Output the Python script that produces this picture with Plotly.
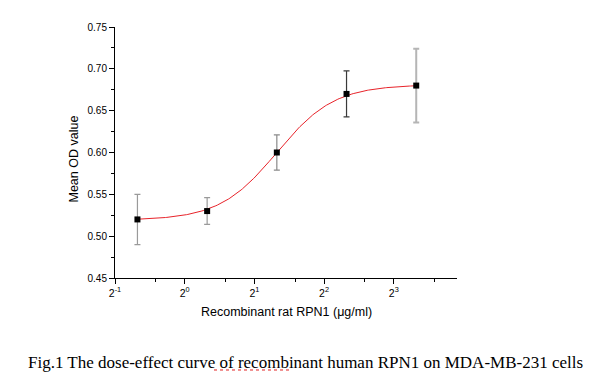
import numpy as np
import plotly.graph_objects as go

# Data
dose = [0.625, 1.25, 2.5, 5, 10]
mean_od = [0.52, 0.53, 0.60, 0.67, 0.68]
err = [0.030, 0.016, 0.021, 0.0275, 0.044]
err_colors = ["#9a9a9a", "#9a9a9a", "#8a8a8a", "#3a3a3a", "#b5b5b5"]
err_widths = [1.2, 1.2, 1.2, 1.2, 2.0]

# Logistic fit parameters (estimated from the drawn curve)
fit_A1 = 0.519
fit_A2 = 0.681
fit_x0 = 2.5
fit_p = 3.5

x_tickvals = [0.5, 1, 2, 4, 8]
x_ticktext = ["2<sup>-1</sup>", "2<sup>0</sup>", "2<sup>1</sup>", "2<sup>2</sup>", "2<sup>3</sup>"]
x_minor = [0.75, 1.5, 3, 6, 12]
y_tickvals = [0.45, 0.50, 0.55, 0.60, 0.65, 0.70, 0.75]
y_ticktext = ["0.45", "0.50", "0.55", "0.60", "0.65", "0.70", "0.75"]
y_minor = [0.475, 0.525, 0.575, 0.625, 0.675, 0.725]

xs = np.logspace(np.log10(dose[0]), np.log10(dose[-1]), 200)
ys = fit_A2 + (fit_A1 - fit_A2) / (1 + (xs / fit_x0) ** fit_p)

fig = go.Figure()
fig.add_trace(go.Scatter(x=xs, y=ys, mode="lines",
                         line=dict(color="#e8232a", width=1), hoverinfo="skip"))
for i in range(len(dose)):
    fig.add_trace(go.Scatter(
        x=[dose[i]], y=[mean_od[i]], mode="markers",
        marker=dict(symbol="square", size=6, color="black"),
        error_y=dict(type="data", array=[err[i]], visible=True,
                     color=err_colors[i], thickness=err_widths[i], width=3)))

font_sans = "Liberation Sans, Arial, sans-serif"
# page body has an 8px margin; margins below compensate for it
fig.update_layout(
    width=612, height=382,
    margin=dict(l=107, r=163, t=19, b=112),
    paper_bgcolor="white", plot_bgcolor="white",
    showlegend=False,
    font=dict(family=font_sans, size=10, color="black"),
    xaxis=dict(type="log", range=[np.log10(0.5), np.log10(15)],
               tickmode="array", tickvals=x_tickvals, ticktext=x_ticktext,
               ticks="outside", ticklen=5, tickwidth=1, tickcolor="black",
               showline=True, linecolor="black", linewidth=1,
               showgrid=False, zeroline=False,
               tickfont=dict(family=font_sans, size=10.5),
               minor=dict(tickmode="array", tickvals=x_minor, ticks="outside",
                          ticklen=3, tickcolor="black", showgrid=False)),
    yaxis=dict(range=[0.45, 0.75],
               tickmode="array", tickvals=y_tickvals, ticktext=y_ticktext,
               ticks="outside", ticklen=5, tickwidth=1, tickcolor="black",
               showline=True, linecolor="black", linewidth=1,
               showgrid=False, zeroline=False,
               tickfont=dict(family=font_sans, size=10),
               minor=dict(tickmode="array", tickvals=y_minor, ticks="outside",
                          ticklen=3, tickcolor="black", showgrid=False)),
    annotations=[
        dict(text="Mean OD value", xref="paper", yref="paper", x=0, y=0.5,
             xanchor="center", yanchor="middle",
             xshift=-42, yshift=-7, textangle=-90, showarrow=False,
             font=dict(family=font_sans, size=12.5)),
        dict(text="Recombinant rat RPN1 (μg/ml)", xref="paper", yref="paper",
             x=0.5, y=0, xanchor="center", yanchor="middle",
             yshift=-34, showarrow=False,
             font=dict(family=font_sans, size=12.5)),
        dict(text="Fig.1 The dose-effect curve of recombinant human RPN1 on MDA-MB-231 cells",
             xref="paper", yref="paper", x=0.5, y=0, xanchor="center", yanchor="middle",
             xshift=19, yshift=-84, showarrow=False,
             font=dict(family="Liberation Serif, Times New Roman, serif", size=17)),
    ],
    shapes=[
        # spell-check style dotted underline under "recombinant" in the caption
        dict(type="line", xref="paper", yref="paper",
             x0=0.2895, x1=0.5117, y0=-0.3665, y1=-0.3665,
             line=dict(color="#e02020", width=1, dash="dot")),
    ],
)
fig.write_html("out.html")
